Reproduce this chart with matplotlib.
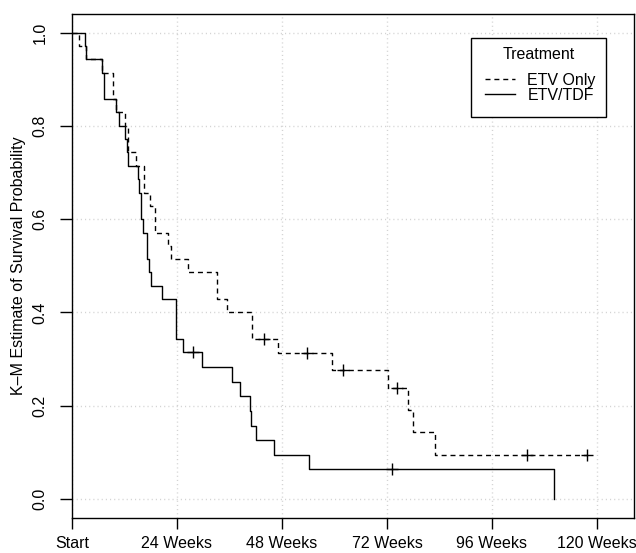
import matplotlib
matplotlib.use('Agg')
import matplotlib.pyplot as plt
from matplotlib.patches import Rectangle
import numpy as np

plt.rcParams['font.family'] = ['Liberation Sans', 'DejaVu Sans']

## K-M curves (weeks, survival after the step)
tdf_times = [0, 2.9, 3.3, 6.9, 7.4, 10.0, 10.8, 12.2, 12.5, 12.8, 15.0, 15.4, 15.8,
             16.2, 17.2, 17.7, 18.1, 20.6, 23.8, 25.3, 29.8, 36.5, 38.4, 40.8, 41.0,
             42.0, 46.2, 54.2, 110.2]
tdf_surv = [1.0, 0.971, 0.943, 0.914, 0.857, 0.829, 0.800, 0.771, 0.743, 0.714, 0.686,
            0.657, 0.600, 0.571, 0.514, 0.486, 0.457, 0.429, 0.343, 0.314, 0.283, 0.251,
            0.220, 0.189, 0.157, 0.126, 0.094, 0.063, 0.0]
tdf_censor = [27.7, 73.1]

etv_times = [0, 1.7, 3.1, 6.9, 9.3, 10.0, 12.1, 12.8, 14.6, 16.5, 17.8, 19.0, 22.0,
             22.7, 26.6, 33.1, 35.4, 41.1, 47.0, 59.4, 72.3, 76.7, 78.0, 83.0, 117.8]
etv_surv = [1.0, 0.971, 0.943, 0.914, 0.857, 0.829, 0.800, 0.743, 0.714, 0.657, 0.629,
            0.571, 0.543, 0.514, 0.486, 0.429, 0.400, 0.343, 0.312, 0.277, 0.238, 0.190,
            0.143, 0.095, 0.095]
etv_censor = [44.0, 53.7, 62.0, 74.3, 104.1, 117.8]

week_ticks = [0, 24, 48, 72, 96, 120]
week_labels = ['Start', '24 Weeks', '48 Weeks', '72 Weeks', '96 Weeks', '120 Weeks']
surv_ticks = [0.0, 0.2, 0.4, 0.6, 0.8, 1.0]


def surv_at(times, surv, t):
    # value of the step function at time t
    i = np.searchsorted(times, t, side='right') - 1
    return np.asarray(surv)[i]


fig = plt.figure(figsize=(6.36, 5.53), dpi=100)
ax = fig.add_axes([72/636, 1 - 517.5/553, (634-72)/636, (517.5-14)/553])

grid_style = dict(color='#d3d3d3', linestyle=(0, (0.8, 2.2)), linewidth=1.0, zorder=0)
for x in week_ticks:
    ax.axvline(x, **grid_style)
for y in surv_ticks:
    ax.axhline(y, **grid_style)

ax.step(etv_times, etv_surv, where='post', color='black', linewidth=1.0,
        dashes=(3.6, 2.8), label='ETV Only')
ax.step(tdf_times, tdf_surv, where='post', color='black', linewidth=1.0,
        label='ETV/TDF')

ax.plot(etv_censor, surv_at(etv_times, etv_surv, etv_censor), linestyle='none',
        marker='+', markersize=8, markeredgewidth=1.0, color='black')
ax.plot(tdf_censor, surv_at(tdf_times, tdf_surv, tdf_censor), linestyle='none',
        marker='+', markersize=8, markeredgewidth=1.0, color='black')

ax.set_xlim(0, 128.46)
ax.set_ylim(-0.04, 1.04)
ax.set_xticks(week_ticks)
ax.set_xticklabels(week_labels)
ax.set_yticks(surv_ticks)
ax.set_yticklabels(['%.1f' % v for v in surv_ticks], rotation=90, va='center')
ax.tick_params(axis='x', length=8, width=1, pad=5, labelsize=11.5)
ax.tick_params(axis='y', length=8.5, width=1, pad=9, labelsize=11.5)
for sp in ax.spines.values():
    sp.set_linewidth(1.0)

ax.set_ylabel('K\u2013M Estimate of Survival Probability', fontsize=11.5, labelpad=4.5)

## legend: R-style box with a centred title
ax.add_patch(Rectangle((0.710, 0.795), 0.240, 0.157, transform=ax.transAxes,
                       facecolor='white', edgecolor='black', linewidth=1.0, zorder=5))
ax.text(0.830, 0.920, 'Treatment', transform=ax.transAxes, ha='center', va='center',
        fontsize=11.5, zorder=6)
leg = ax.legend(loc='upper left', bbox_to_anchor=(0.735, 0.883), frameon=False,
                fontsize=11.5, handlelength=1.85, handletextpad=0.8,
                borderpad=0, labelspacing=0.0, borderaxespad=0)
leg.set_zorder(6)

fig.savefig('out.png', dpi=100)
